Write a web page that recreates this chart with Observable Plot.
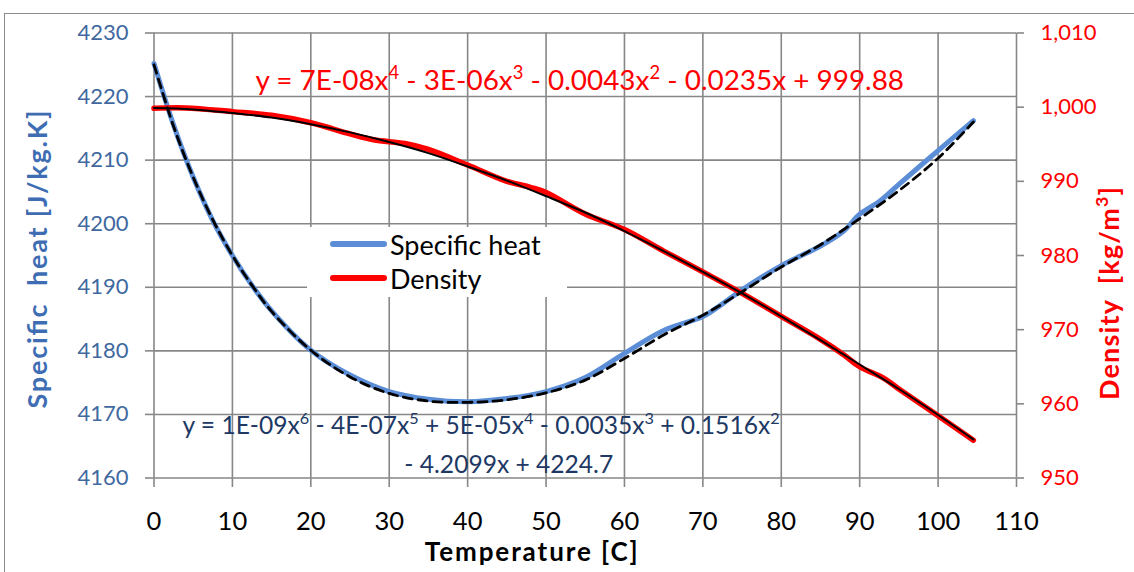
<!DOCTYPE html>
<html>
<head>
<meta charset="utf-8">
<script src="https://cdn.jsdelivr.net/npm/d3@7"></script>
<script src="https://cdn.jsdelivr.net/npm/@observablehq/plot@0.6"></script>
<style>
  html, body { margin: 0; padding: 0; background: #fff; }
  #chart { position: relative; width: 1134px; height: 572px; overflow: hidden; font-family: Lato, "Open Sans", sans-serif; }
  #chart svg { position: absolute; left: 0; top: 0; }
  #chart svg text { white-space: pre; }
  #border { position: absolute; left: 4px; top: 13px; width: 1300px; height: 800px; border: 1px solid #8c8c8c; box-sizing: border-box; }
  #legend { position: absolute; left: 307px; top: 227px; width: 260px; height: 70px; background: #fff; }
  #legend .item { position: absolute; left: 23px; height: 34px; display: flex; align-items: center; }
  #legend .swatch { width: 57px; height: 6px; border-radius: 3px; margin-right: 3px; }
  #legend .name { font-size: 27px; color: #000; line-height: 1; }
</style>
</head>
<body>
<div id="chart">
  <div id="border"></div>
</div>
<script>
// Temperature ticks and the two value axes
const tempTicks = [0, 10, 20, 30, 40, 50, 60, 70, 80, 90, 100, 110];
const heatTicks = [4160, 4170, 4180, 4190, 4200, 4210, 4220, 4230];
const densityTicks = [950, 960, 970, 980, 990, 1000, 1010];

// Specific heat of water [J/kg.K]
const heatTemp = [0, 2.5, 5, 7.5, 10, 12.5, 15, 20, 25, 30, 35, 40, 45, 50, 55, 60, 65, 70, 72.5, 75, 80, 85, 88, 90, 92.5, 95, 100, 104.5];
const heatValue = [4225.2, 4215.5, 4207.3, 4200.5, 4195.0, 4190.3, 4186.3, 4180.1, 4176.2, 4173.6, 4172.4, 4172.0, 4172.5, 4173.6, 4175.8, 4179.6, 4183.2, 4185.4, 4187.4, 4189.6, 4193.4, 4196.5, 4198.9, 4201.5, 4203.5, 4206.2, 4211.5, 4216.2];

// Sixth-order trend of specific heat
const heatTrendTemp = [0, 2.5, 5, 7.5, 10, 12.5, 15, 20, 25, 30, 35, 40, 45, 50, 55, 60, 65, 70, 75, 80, 85, 90, 95, 100, 104.5];
const heatTrendValue = [4225.0, 4215.3, 4207.3, 4200.6, 4195.0, 4190.3, 4186.2, 4180.1, 4175.9, 4173.3, 4172.1, 4171.9, 4172.3, 4173.4, 4175.4, 4178.8, 4182.5, 4185.6, 4189.3, 4193.2, 4196.7, 4200.8, 4205.2, 4210.3, 4216.0];

// Density of water [kg/m3]
const densityTemp = [0, 4, 10, 15, 20, 25, 28, 32, 35, 40, 45, 48, 50, 55, 60, 65, 70, 75, 80, 85, 88, 90, 93, 95, 100, 104.5];
const densityValue = [999.85, 999.9, 999.4, 998.9, 997.9, 996.4, 995.6, 995.1, 994.3, 992.2, 990.0, 989.2, 988.5, 985.6, 983.5, 980.6, 977.8, 974.9, 971.8, 968.7, 966.6, 965.0, 963.5, 962.0, 958.4, 955.1];

// Fourth-order trend of density
const densityTrendTemp = [0, 5, 10, 15, 20, 25, 30, 35, 40, 45, 50, 55, 60, 65, 70, 75, 80, 85, 90, 95, 100, 104.5];
const densityTrendValue = [999.88, 999.7, 999.2, 998.6, 997.7, 996.6, 995.3, 993.8, 992.0, 990.1, 988.0, 985.8, 983.3, 980.6, 977.8, 974.9, 971.8, 968.6, 965.3, 962.0, 958.5, 955.2];

const seriesNames = ["Specific heat", "Density"];
const seriesColors = ["#5b8ed6", "#ff0000"];

const heatEquation = ["y = 1E-09x⁶ - 4E-07x⁵ + 5E-05x⁴ - 0.0035x³ + 0.1516x²", "- 4.2099x + 4224.7"];
const densityEquation = "y = 7E-08x⁴ - 3E-06x³ - 0.0043x² - 0.0235x + 999.88";

const titles = {heat: "Specific  heat [J/kg.K]", density: "Density  [kg/m³]", temp: "Temperature [C]"};

// The density axis on the right shares the plot's y scale through a linear map
const heatDomain = [heatTicks[0], heatTicks[heatTicks.length - 1]];
const densityDomain = [densityTicks[0], densityTicks[densityTicks.length - 1]];
const k = (heatDomain[1] - heatDomain[0]) / (densityDomain[1] - densityDomain[0]);
const toHeat = d => heatDomain[0] + (d - densityDomain[0]) * k;
const toDensity = h => densityDomain[0] + (h - heatDomain[0]) / k;

const zip = (xs, ys, f = v => v) => xs.map((t, i) => ({t, v: f(ys[i])}));
const heatRows = zip(heatTemp, heatValue);
const heatTrendRows = zip(heatTrendTemp, heatTrendValue);
const densityRows = zip(densityTemp, densityValue, toHeat);
const densityTrendRows = zip(densityTrendTemp, densityTrendValue, toHeat);

const gridColor = "#878787";
const heatAxisColor = "#41699f";

const chart = Plot.plot({
  width: 1134,
  height: 572,
  marginLeft: 153.5,
  marginRight: 118,
  marginTop: 32.5,
  marginBottom: 94.5,
  style: {background: "transparent", fontFamily: "Lato, 'Open Sans', sans-serif"},
  x: {domain: [tempTicks[0], tempTicks[tempTicks.length - 1]]},
  y: {domain: heatDomain},
  marks: [
    Plot.gridX(tempTicks, {stroke: gridColor, strokeOpacity: 1, strokeWidth: 1.6}),
    Plot.gridY(heatTicks, {stroke: gridColor, strokeOpacity: 1, strokeWidth: 1.6}),
    Plot.axisX(tempTicks, {tickSize: 9.5, tickPadding: 24.5, fontSize: 25.5, stroke: gridColor, strokeWidth: 1.6, fill: "#000", label: null, tickFormat: d => String(d)}),
    Plot.axisY(heatTicks, {anchor: "left", tickSize: 8.5, tickPadding: 17, fontSize: 22, stroke: gridColor, strokeWidth: 1.6, fill: heatAxisColor, label: null, tickFormat: d => String(d)}),
    Plot.axisY(densityTicks.map(toHeat), {anchor: "right", tickSize: 7, tickPadding: 17, fontSize: 22, stroke: gridColor, strokeWidth: 1.6, fill: "#ff0000", label: null, tickFormat: h => d3.format(",")(Math.round(toDensity(h)))}),

    Plot.line(heatRows, {x: "t", y: "v", stroke: seriesColors[0], strokeWidth: 5, curve: "catmull-rom"}),
    Plot.line(densityRows, {x: "t", y: "v", stroke: seriesColors[1], strokeWidth: 5.5, curve: "catmull-rom"}),
    Plot.line(heatTrendRows, {x: "t", y: "v", stroke: "#000", strokeWidth: 2.8, strokeDasharray: "9,6", curve: "catmull-rom"}),
    Plot.line(densityTrendRows, {x: "t", y: "v", stroke: "#000", strokeWidth: 2, curve: "catmull-rom"}),

    // Trendline equations
    Plot.text([densityEquation], {x: 12.94, y: 4222.4, text: d => d, textAnchor: "start", fontSize: 27.9, fill: "#ff0000"}),
    Plot.text([heatEquation[0]], {x: 3.63, y: 4168.1, text: d => d, textAnchor: "start", fontSize: 24.6, fill: "#203864"}),
    Plot.text([heatEquation[1]], {x: 31.93, y: 4162.0, text: d => d, textAnchor: "start", fontSize: 24.6, fill: "#203864"}),

    // Axis titles
    Plot.text([titles.heat], {frameAnchor: "left", text: d => d, dx: -115.5, dy: 4, rotate: -90, textAnchor: "middle", fill: "#3f6db3", fontWeight: "bold", fontSize: 27}),
    Plot.text([titles.density], {frameAnchor: "right", text: d => d, dx: 94, dy: 38, rotate: -90, textAnchor: "middle", fill: "#ff0000", fontWeight: "bold", fontSize: 27}),
    Plot.text([titles.temp], {frameAnchor: "bottom", text: d => d, dx: -54, dy: 75, lineAnchor: "middle", fill: "#000", fontWeight: "bold", fontSize: 26})
  ]
});

const root = document.getElementById("chart");
root.appendChild(chart);

// Axis titles are spread to their full length
const titleLengths = {[titles.heat]: 298, [titles.density]: 213, [titles.temp]: 213};
d3.select(chart).selectAll("text").each(function () {
  const len = titleLengths[this.textContent];
  if (len) d3.select(this).attr("textLength", len).attr("lengthAdjust", "spacing");
});

// Draw superscript digits as raised, smaller tspans
const superDigits = {"⁰": "0", "¹": "1", "²": "2", "³": "3", "⁴": "4", "⁵": "5", "⁶": "6", "⁷": "7", "⁸": "8", "⁹": "9"};
d3.select(chart).selectAll("text").each(function () {
  const s = this.textContent;
  if (![...s].some(c => c in superDigits)) return;
  const size = parseFloat(getComputedStyle(this).fontSize);
  const rise = 0.42 * size;
  const parts = s.split(/([⁰¹²³⁴⁵⁶⁷⁸⁹]+)/).filter(p => p.length);
  this.textContent = "";
  let raised = false;
  for (const p of parts) {
    const isSup = p[0] in superDigits;
    const ts = d3.select(this).append("tspan");
    if (isSup) {
      ts.text([...p].map(c => superDigits[c]).join(""))
        .attr("font-size", (0.66 * size) + "px")
        .attr("dy", -rise);
      raised = true;
    } else {
      ts.text(p);
      if (raised) ts.attr("dy", rise);
      raised = false;
    }
  }
});

// Legend box sitting over the grid
const legend = document.createElement("div");
legend.id = "legend";
seriesNames.forEach((name, i) => {
  const item = document.createElement("div");
  item.className = "item";
  item.style.top = (i * 34) + "px";
  const sw = document.createElement("div");
  sw.className = "swatch";
  sw.style.background = seriesColors[i];
  const label = document.createElement("span");
  label.className = "name";
  label.textContent = name;
  item.appendChild(sw);
  item.appendChild(label);
  legend.appendChild(item);
});
root.appendChild(legend);
</script>
</body>
</html>
